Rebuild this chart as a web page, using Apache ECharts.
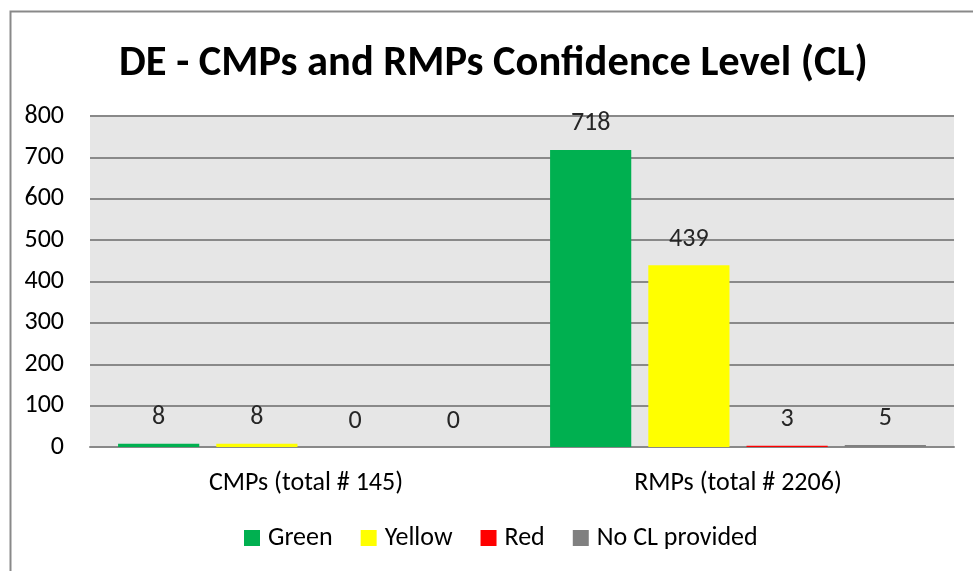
<!DOCTYPE html>
<html><head><meta charset="utf-8">
<script src="https://cdn.jsdelivr.net/npm/echarts@6/dist/echarts.min.js"></script>
<style>html,body{margin:0;padding:0;background:#fff}#c{width:973px;height:571px}</style>
</head><body><div id="c"></div>
<script>
var categories = ['CMPs (total # 145)', 'RMPs (total # 2206)'];
var seriesNames = ['Green', 'Yellow', 'Red', 'No CL provided'];
var green = [8, 718];
var yellow = [8, 439];
var red = [0, 3];
var noCL = [0, 5];
var yTicks = [0, 100, 200, 300, 400, 500, 600, 700, 800];
var colors = ['#00B050', '#FFFF00', '#FF0000', '#808080'];
var values = [green, yellow, red, noCL];
var FONT = "Carlito, Calibri, 'Open Sans', sans-serif";

var chart = echarts.init(document.getElementById('c'));
chart.setOption({
  animation: false,
  backgroundColor: '#fff',
  textStyle: { fontFamily: FONT },
  title: {
    text: 'DE - CMPs and RMPs Confidence Level (CL)',
    left: 114, top: 38,
    textStyle: { fontFamily: FONT, fontWeight: 'bold', fontSize: 42.5, color: '#000' }
  },
  legend: {
    bottom: 15, left: 239,
    itemWidth: 16, itemHeight: 16, itemGap: 28,
    icon: 'rect',
    textStyle: { fontFamily: FONT, fontSize: 26, color: '#000', padding: [0, 0, 0, 3] },
    data: seriesNames
  },
  graphic: [{
    type: 'rect', left: 8, top: 9, shape: { width: 990, height: 600 },
    style: { fill: 'none', stroke: '#898989', lineWidth: 2 }, silent: true
  }],
  grid: {
    left: 90, right: 19, top: 116, bottom: 124,
    show: true, backgroundColor: '#E6E6E6', borderWidth: 0
  },
  xAxis: {
    type: 'category', data: categories,
    axisLine: { show: true, lineStyle: { color: '#898989', width: 2 } },
    axisTick: { show: false },
    axisLabel: { fontFamily: FONT, fontSize: 26, color: '#000', margin: 23 }
  },
  yAxis: {
    type: 'value', min: yTicks[0], max: yTicks[yTicks.length - 1], interval: 100,
    axisLine: { show: false }, axisTick: { show: false },
    splitLine: { lineStyle: { color: '#898989', width: 2 } },
    axisLabel: { fontFamily: FONT, fontSize: 26, color: '#000', margin: 26 }
  },
  series: seriesNames.map(function (n, i) {
    return {
      name: n, type: 'bar', data: values[i],
      barGap: '21%', barCategoryGap: '13%',
      itemStyle: { color: colors[i] },
      label: { show: true, position: 'top', distance: 13, fontFamily: FONT, fontSize: 26, color: '#262626' }
    };
  })
});
</script></body></html>
